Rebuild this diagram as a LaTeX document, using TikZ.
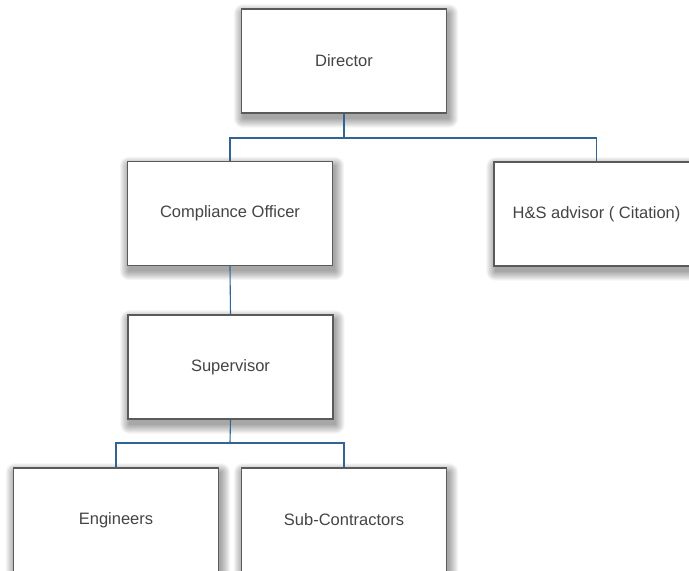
\documentclass[tikz,border=0pt]{standalone}
\usepackage{fontspec}
\setmainfont{Liberation Sans}
\usetikzlibrary{backgrounds,calc}
\definecolor{boxline}{HTML}{5A5A5A}
\definecolor{txtcol}{HTML}{444444}
\definecolor{linkcol}{HTML}{2F6494}
\tikzset{
  orgbox/.style={rectangle, draw=boxline, line width=1.3pt, fill=white,
    minimum width=205pt, minimum height=104pt, inner sep=0pt,
    text=txtcol, font=\fontsize{16.5}{19}\selectfont},
  link/.style={draw=linkcol, line width=1.1pt},
  shadowlayer/.style={fill=black, fill opacity=0.04, rounded corners=#1}
}
\begin{document}
\begin{tikzpicture}[x=1pt,y=1pt]
\useasboundingbox (0,0) rectangle (689,-571);
\clip (0,0) rectangle (689,-571);
\coordinate (b1) at (344,-138);
\coordinate (b2) at (230,-443);
\node[orgbox] (dir) at (344,-61) {Director};
\node[orgbox] (co) at (230,-213.5) {Compliance Officer};
\node[orgbox] (hs) at (596.5,-214) {H\&S advisor ( Citation)};
\node[orgbox] (sup) at (230.5,-367) {Supervisor};
\node[orgbox] (eng) at (116,-520) {Engineers};
\node[orgbox] (sub) at (344,-520) {Sub-Contractors};
\begin{scope}[on background layer]
\fill[white] (0,0) rectangle (689,-571);
\foreach \n in {dir,co,hs,sup,eng,sub}{
  \foreach \i in {0,1,...,9}{
    \fill[shadowlayer=\i pt] ($(\n.south west)+(2-\i,-5-\i)$) rectangle ($(\n.north east)+(2+\i,-5+\i)$);
  }
}
\end{scope}
\draw[link] (dir.south) -- (b1);
\draw[link] (co.north) |- (b1) -| (hs.north);
\draw[link] (co.south) -- (sup.north);
\draw[link] (sup.south) -- (b2);
\draw[link] (eng.north) |- (b2) -| (sub.north);
\end{tikzpicture}
\end{document}
